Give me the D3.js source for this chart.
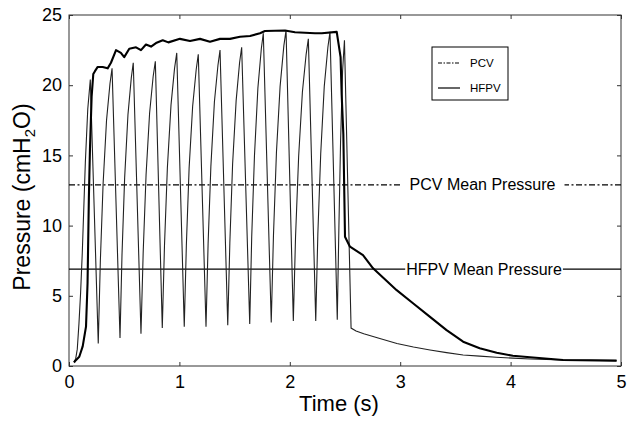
<!DOCTYPE html>
<html><head><meta charset="utf-8">
<script src="https://cdn.jsdelivr.net/npm/d3@7"></script>
<style>
html,body{margin:0;padding:0;background:#fff;}
text{font-family:"Liberation Sans",Arial,sans-serif;}
</style></head>
<body>
<svg id="chart" width="627" height="427"></svg>
<script>
// ---- data (time s, pressure cmH2O) ----
const pcvTime = [0.045,0.06,0.093,0.124,0.154,0.168,0.18,0.19,0.205,0.22,0.235,0.26,0.305,0.35,0.38,0.426,0.47,0.5,0.546,0.607,0.652,0.697,0.743,0.788,0.849,0.9,1.005,1.096,1.187,1.277,1.368,1.458,1.549,1.64,1.73,1.775,1.957,2.047,2.228,2.29,2.425,2.46,2.47,2.485,2.5,2.545,2.663,2.754,2.968,3.116,3.27,3.42,3.57,3.72,3.874,4.02,4.176,4.475,4.96];
const pcvPressure = [0.25,0.4,0.66,1.4,2.8,5.9,12,15.5,19.2,20.8,21.0,21.3,21.3,21.2,21.6,22.5,22.3,22.0,22.6,22.7,22.5,22.9,22.75,23.0,23.2,23.05,23.3,23.15,23.3,23.1,23.3,23.3,23.45,23.5,23.7,23.86,23.9,23.77,23.7,23.7,23.8,22.0,19.3,16.5,9.2,8.5,7.9,6.96,5.4,4.47,3.5,2.56,1.73,1.26,0.95,0.73,0.62,0.43,0.38];

const hfpvTime = [0.045,0.06,0.075,0.09,0.105,0.12,0.148,0.17,0.193,
  0.265,0.284,0.309,0.340,0.371,0.390,
  0.462,0.480,0.504,0.534,0.564,0.582,
  0.652,0.672,0.698,0.730,0.762,0.782,
  0.845,0.865,0.891,0.924,0.956,0.976,
  1.044,1.063,1.088,1.120,1.152,1.171,
  1.241,1.260,1.285,1.317,1.349,1.368,
  1.438,1.457,1.482,1.514,1.545,1.564,
  1.637,1.655,1.680,1.711,1.742,1.760,
  1.832,1.852,1.879,1.912,1.946,1.966,
  2.032,2.052,2.080,2.114,2.148,2.168,
  2.235,2.254,2.280,2.312,2.345,2.364,
  2.430,2.445,2.460,2.478,2.495,
  2.555,2.6,2.67,2.8,2.97,3.12,3.27,3.42,3.57,3.72,3.87,4.02,4.18,4.47,4.96];
const hfpvPressure = [0.3,0.5,1.2,3.0,5.2,8.0,14.5,18.3,20.4,
  1.6,7.5,13.0,17.5,20.1,21.2,
  2.0,7.9,13.4,17.9,20.5,21.6,
  2.3,8.1,13.6,18.0,20.6,21.7,
  2.7,8.6,14.1,18.6,21.2,22.3,
  2.8,8.6,14.1,18.5,21.1,22.2,
  2.8,8.7,14.2,18.8,21.4,22.5,
  2.9,8.8,14.4,18.9,21.6,22.7,
  3.0,9.2,15.0,19.8,22.6,23.7,
  3.1,9.3,15.2,19.9,22.8,23.9,
  3.2,9.2,14.9,19.5,22.2,23.3,
  3.2,9.4,15.1,19.9,22.7,23.8,
  3.3,10.0,16.0,21.0,23.2,
  2.7,2.5,2.3,2.0,1.6,1.35,1.14,0.95,0.78,0.7,0.62,0.56,0.5,0.43,0.38];

const pcvMean = 12.9;
const hfpvMean = 6.9;
const xTicks = [0,1,2,3,4,5];
const yTicks = [0,5,10,15,20,25];
const legendLabels = ["PCV","HFPV"];
const meanLabels = ["PCV Mean Pressure","HFPV Mean Pressure"];

// ---- layout ----
const svg = d3.select("#chart");
const L = 69, R = 621, T = 15, B = 366;
const x = d3.scaleLinear().domain([0,5]).range([L,R]);
const y = d3.scaleLinear().domain([0,25]).range([B,T]);

// frame
svg.append("rect").attr("x",L).attr("y",T).attr("width",R-L).attr("height",B-T)
  .attr("fill","none").attr("stroke","#333").attr("stroke-width",1);

// axes with inward ticks
const fmt = d3.format("d");
const gx = svg.append("g").attr("transform",`translate(0,${B})`)
  .call(d3.axisBottom(x).tickValues(xTicks).tickFormat(fmt).tickSizeInner(-4).tickSizeOuter(0).tickPadding(9));
const gxt = svg.append("g").attr("transform",`translate(0,${T})`)
  .call(d3.axisTop(x).tickValues(xTicks).tickFormat("").tickSizeInner(-4).tickSizeOuter(0));
const gy = svg.append("g").attr("transform",`translate(${L},0)`)
  .call(d3.axisLeft(y).tickValues(yTicks).tickFormat(fmt).tickSizeInner(-4).tickSizeOuter(0).tickPadding(7));
const gyr = svg.append("g").attr("transform",`translate(${R},0)`)
  .call(d3.axisRight(y).tickValues(yTicks).tickFormat("").tickSizeInner(-4).tickSizeOuter(0));
[gx,gxt,gy,gyr].forEach(g=>{
  g.select(".domain").remove();
  g.selectAll("line").attr("stroke","#333");
  g.selectAll("text").attr("font-family","Liberation Sans, Arial, sans-serif")
    .attr("font-size",18).attr("fill","#000");
});

// mean lines
svg.append("line").attr("x1",L).attr("x2",R).attr("y1",y(pcvMean)).attr("y2",y(pcvMean))
  .attr("stroke","#000").attr("stroke-width",1.3).attr("stroke-dasharray","6,2.5,2,2.5");
svg.append("line").attr("x1",L).attr("x2",R).attr("y1",y(hfpvMean)).attr("y2",y(hfpvMean))
  .attr("stroke","#000").attr("stroke-width",1.2);

// curves
const line = d3.line().x(d=>x(d[0])).y(d=>y(d[1]));
const hfpv = hfpvTime.map((t,i)=>[t,hfpvPressure[i]]);
const pcv = pcvTime.map((t,i)=>[t,pcvPressure[i]]);
svg.append("path").datum(hfpv).attr("d",line).attr("fill","none")
  .attr("stroke","#222").attr("stroke-width",1.1).attr("stroke-linejoin","miter");
svg.append("path").datum(pcv).attr("d",line).attr("fill","none")
  .attr("stroke","#000").attr("stroke-width",2.1).attr("stroke-linejoin","round");

// mean labels with white background
function meanLabel(txt,val,cx,pad){
  const t = svg.append("text").attr("x",cx).attr("y",y(val)).attr("dy","0.35em")
    .attr("text-anchor","middle").attr("font-size",16).attr("fill","#000").text(txt);
  const bb = t.node().getBBox();
  svg.insert("rect", () => t.node()).attr("x",bb.x-pad).attr("y",bb.y+2)
    .attr("width",bb.width+2*pad).attr("height",bb.height-4).attr("fill","#fff");
}
meanLabel(meanLabels[0],pcvMean,482.5,9);
meanLabel(meanLabels[1],hfpvMean,484,1);

// legend
const lg = svg.append("g");
lg.append("rect").attr("x",432).attr("y",47).attr("width",76).attr("height",53)
  .attr("fill","#fff").attr("stroke","#000").attr("stroke-width",1);
const legY = [63,88];
lg.append("line").attr("x1",438).attr("x2",460).attr("y1",legY[0]).attr("y2",legY[0])
  .attr("stroke","#000").attr("stroke-width",1.2).attr("stroke-dasharray","4,1.5,1.5,1.5");
lg.append("line").attr("x1",438).attr("x2",460).attr("y1",legY[1]).attr("y2",legY[1])
  .attr("stroke","#000").attr("stroke-width",1.2);
legendLabels.forEach((s,i)=>{
  lg.append("text").attr("x",470).attr("y",legY[i]).attr("dy","0.35em")
    .attr("font-size",11.5).attr("fill","#000").text(s);
});

// axis titles
svg.append("text").attr("x",339).attr("y",411).attr("text-anchor","middle")
  .attr("font-size",22).attr("fill","#000").text("Time (s)");
const yl = svg.append("text").attr("transform","translate(30,197) rotate(-90)")
  .attr("text-anchor","middle").attr("font-size",23).attr("fill","#000");
yl.append("tspan").text("Pressure (cmH");
yl.append("tspan").attr("font-size",15).attr("dy",5).text("2");
yl.append("tspan").attr("dy",-5).text("O)");
</script>
</body></html>
